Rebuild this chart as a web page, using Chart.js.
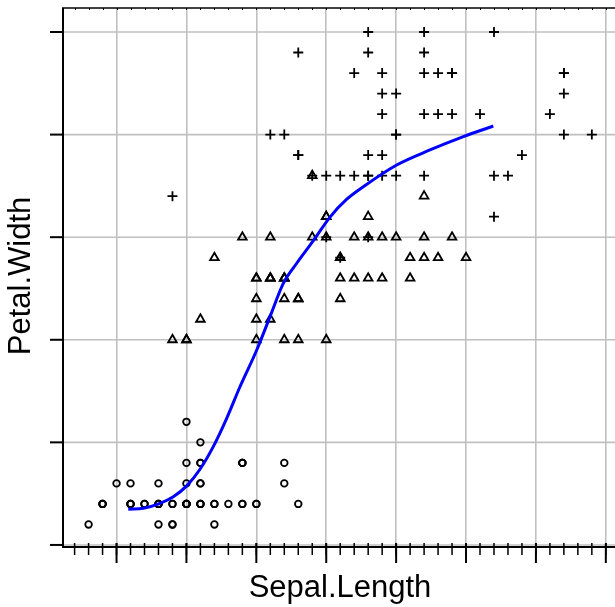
<!DOCTYPE html>
<html>
<head>
<meta charset="utf-8">
<script src="https://cdn.jsdelivr.net/npm/chart.js@4"></script>
<style>
  html, body { margin: 0; padding: 0; background: #ffffff; overflow: hidden; }
  #wrap { width: 615px; height: 607px; position: relative; }
  canvas { display: block; }
</style>
</head>
<body>
<div id="wrap"><canvas id="c" width="615" height="607"></canvas></div>
<script>
// Iris data: Sepal.Length (x) and Petal.Width (y) by species
const setosaSepalLength = [5.1,4.9,4.7,4.6,5.0,5.4,4.6,5.0,4.4,4.9,5.4,4.8,4.8,4.3,5.8,5.7,5.4,5.1,5.7,5.1,5.4,5.1,4.6,5.1,4.8,5.0,5.0,5.2,5.2,4.7,4.8,5.4,5.2,5.5,4.9,5.0,5.5,4.9,4.4,5.1,5.0,4.5,4.4,5.0,5.1,4.8,5.1,4.6,5.3,5.0];
const setosaPetalWidth   = [0.2,0.2,0.2,0.2,0.2,0.4,0.3,0.2,0.2,0.1,0.2,0.2,0.1,0.1,0.2,0.4,0.4,0.3,0.3,0.3,0.2,0.4,0.2,0.5,0.2,0.2,0.4,0.2,0.2,0.2,0.2,0.4,0.1,0.2,0.2,0.2,0.2,0.1,0.2,0.2,0.3,0.3,0.2,0.6,0.4,0.3,0.2,0.2,0.2,0.2];
const versicolorSepalLength = [7.0,6.4,6.9,5.5,6.5,5.7,6.3,4.9,6.6,5.2,5.0,5.9,6.0,6.1,5.6,6.7,5.6,5.8,6.2,5.6,5.9,6.1,6.3,6.1,6.4,6.6,6.8,6.7,6.0,5.7,5.5,5.5,5.8,6.0,5.4,6.0,6.7,6.3,5.6,5.5,5.5,6.1,5.8,5.0,5.6,5.7,5.7,6.2,5.1,5.7];
const versicolorPetalWidth   = [1.4,1.5,1.5,1.3,1.5,1.3,1.6,1.0,1.3,1.4,1.0,1.5,1.0,1.4,1.3,1.4,1.5,1.0,1.5,1.1,1.8,1.3,1.5,1.2,1.3,1.4,1.4,1.7,1.5,1.0,1.1,1.0,1.2,1.6,1.5,1.6,1.5,1.3,1.3,1.3,1.2,1.4,1.2,1.0,1.3,1.2,1.3,1.3,1.1,1.3];
const virginicaSepalLength = [6.3,5.8,7.1,6.3,6.5,7.6,4.9,7.3,6.7,7.2,6.5,6.4,6.8,5.7,5.8,6.4,6.5,7.7,7.7,6.0,6.9,5.6,7.7,6.3,6.7,7.2,6.2,6.1,6.4,7.2,7.4,7.9,6.4,6.3,6.1,7.7,6.3,6.4,6.0,6.9,6.7,6.9,5.8,6.8,6.7,6.7,6.3,6.5,6.2,5.9];
const virginicaPetalWidth   = [2.5,1.9,2.1,1.8,2.2,2.1,1.7,1.8,1.8,2.5,2.0,1.9,2.1,2.0,2.4,2.3,1.8,2.2,2.3,1.5,2.3,2.0,2.0,1.8,2.1,1.8,1.8,1.8,2.1,1.6,1.9,2.0,2.2,1.5,1.4,2.3,2.4,1.8,1.8,2.1,2.4,2.3,1.9,2.3,2.5,2.3,1.9,2.0,2.3,1.8];

// Smooth curve
const smoothX = [4.584,4.692,4.811,4.906,5.002,5.097,5.192,5.288,5.383,5.503,5.598,5.693,5.789,5.908,6.027,6.147,6.265,6.504,6.742,6.981,7.195];
const smoothY = [0.174,0.179,0.203,0.235,0.288,0.369,0.479,0.617,0.771,0.950,1.113,1.275,1.373,1.483,1.598,1.685,1.746,1.852,1.925,1.990,2.042];

// Tick values (labels are not shown in the picture)
const xMajorTicks = [4.5,5.0,5.5,6.0,6.5,7.0,7.5,8.0];
const xMinorTicks = [4.2,4.3,4.4,4.5,4.6,4.7,4.8,4.9,5.0,5.1,5.2,5.3,5.4,5.5,5.6,5.7,5.8,5.9,6.0,6.1,6.2,6.3,6.4,6.5,6.6,6.7,6.8,6.9,7.0,7.1,7.2,7.3,7.4,7.5,7.6,7.7,7.8,7.9,8.0];
const yMajorTicks = [0.0,0.5,1.0,1.5,2.0,2.5];

const xTitle = 'Sepal.Length';
const yTitle = 'Petal.Width';

function pts(xs, ys) { return xs.map((x, i) => ({ x: x, y: ys[i] })); }

const FONT = '"Liberation Sans", Arial, sans-serif';

function noPad(s) { s.paddingLeft = 0; s.paddingRight = 0; s.paddingTop = 0; s.paddingBottom = 0; }

const framePlugin = {
  id: 'frame',
  beforeDatasetsDraw(chart) {
    const ctx = chart.ctx, a = chart.chartArea;
    const xs = chart.scales.x, ys = chart.scales.y;
    ctx.save();
    const R = chart.width;
    // horizontal grid lines (extend to the right edge)
    ctx.strokeStyle = '#c0c0c0';
    ctx.lineWidth = 1.6;
    yMajorTicks.forEach(v => {
      const p = ys.getPixelForValue(v);
      ctx.beginPath(); ctx.moveTo(a.left, p); ctx.lineTo(R, p); ctx.stroke();
    });
    ctx.strokeStyle = '#000';
    ctx.lineCap = 'butt';
    // left axis
    ctx.lineWidth = 2;
    ctx.beginPath(); ctx.moveTo(a.left, a.top); ctx.lineTo(a.left, a.bottom + 1); ctx.stroke();
    // bottom axis
    ctx.beginPath(); ctx.moveTo(a.left - 1, a.bottom); ctx.lineTo(R, a.bottom); ctx.stroke();
    // top border
    ctx.lineWidth = 1.5;
    ctx.beginPath(); ctx.moveTo(a.left - 1, a.top); ctx.lineTo(R, a.top); ctx.stroke();
    // top minor ticks (tiny, inward)
    ctx.lineWidth = 1;
    xMinorTicks.forEach(v => {
      const p = Math.round(xs.getPixelForValue(v)) + 0.5;
      ctx.beginPath(); ctx.moveTo(p, a.top); ctx.lineTo(p, a.top + 2); ctx.stroke();
    });
    // bottom minor ticks
    ctx.lineWidth = 1.5;
    xMinorTicks.forEach(v => {
      const p = xs.getPixelForValue(v);
      ctx.beginPath(); ctx.moveTo(p, a.bottom - 4); ctx.lineTo(p, a.bottom + 8); ctx.stroke();
    });
    // bottom major ticks
    ctx.lineWidth = 2;
    xMajorTicks.forEach(v => {
      const p = xs.getPixelForValue(v);
      ctx.beginPath(); ctx.moveTo(p, a.bottom - 4); ctx.lineTo(p, a.bottom + 16); ctx.stroke();
    });
    // left major ticks
    yMajorTicks.forEach(v => {
      const p = ys.getPixelForValue(v);
      ctx.beginPath(); ctx.moveTo(a.left - 13, p); ctx.lineTo(a.left, p); ctx.stroke();
    });
    // titles
    ctx.fillStyle = '#000';
    ctx.font = '31px ' + FONT;
    ctx.textAlign = 'center';
    ctx.textBaseline = 'alphabetic';
    ctx.fillText(xTitle, 340, 597);
    ctx.save();
    ctx.translate(30, 276);
    ctx.rotate(-Math.PI / 2);
    ctx.fillText(yTitle, 0, 0);
    ctx.restore();
    ctx.restore();
  }
};

new Chart(document.getElementById('c'), {
  type: 'scatter',
  data: {
    datasets: [
      {
        label: 'smooth',
        data: pts(smoothX, smoothY),
        showLine: true,
        borderColor: '#0000ff',
        borderWidth: 3,
        pointRadius: 0,
        fill: false,
        cubicInterpolationMode: 'monotone',
        order: 0
      },
      {
        label: 'virginica',
        data: pts(virginicaSepalLength, virginicaPetalWidth),
        pointStyle: 'cross',
        pointRadius: 5,
        borderColor: '#000',
        backgroundColor: 'transparent',
        pointBorderWidth: 1.8,
        order: 1
      },
      {
        label: 'versicolor',
        data: pts(versicolorSepalLength, versicolorPetalWidth),
        pointStyle: 'triangle',
        pointRadius: 5,
        borderColor: '#000',
        backgroundColor: 'transparent',
        pointBorderWidth: 1.8,
        order: 2
      },
      {
        label: 'setosa',
        data: pts(setosaSepalLength, setosaPetalWidth),
        pointStyle: 'circle',
        pointRadius: 3.3,
        borderColor: '#000',
        backgroundColor: 'transparent',
        pointBorderWidth: 1.8,
        order: 3
      }
    ]
  },
  options: {
    responsive: false,
    animation: false,
    events: [],
    layout: { padding: { left: 0, right: 0, top: 8, bottom: 0 } },
    plugins: { legend: { display: false }, tooltip: { enabled: false }, title: { display: false } },
    scales: {
      x: {
        type: 'linear',
        min: 4.117,
        max: 8.017,
        afterBuildTicks: s => { s.ticks = xMajorTicks.map(v => ({ value: v })); },
        afterFit: s => { s.height = 60; noPad(s); },
        ticks: { display: false },
        grid: { color: '#c0c0c0', lineWidth: 1.6, drawTicks: false },
        border: { display: false }
      },
      y: {
        type: 'linear',
        min: -0.01,
        max: 2.617,
        afterBuildTicks: s => { s.ticks = yMajorTicks.map(v => ({ value: v })); },
        afterFit: s => { s.width = 63; noPad(s); },
        ticks: { display: false },
        grid: { display: false },
        border: { display: false }
      }
    }
  },
  plugins: [framePlugin]
});
</script>
</body>
</html>
